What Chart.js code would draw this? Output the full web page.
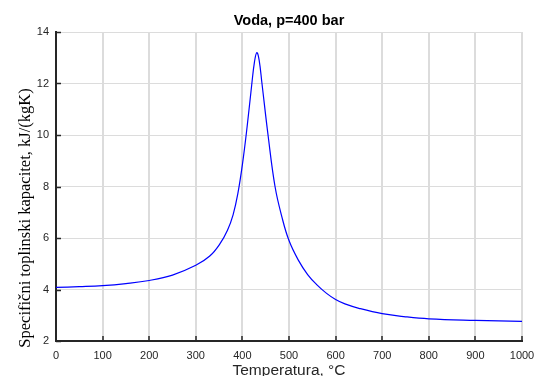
<!DOCTYPE html>
<html>
<head>
<meta charset="utf-8">
<script src="https://cdn.jsdelivr.net/npm/chart.js@4.4.0/dist/chart.umd.min.js"></script>
<style>
  body { margin: 0; background: #fff; }
  canvas { display: block; }
</style>
</head>
<body>
<canvas id="cpChart" width="536" height="376"></canvas>
<script>
// temperatura (°C) i specificni toplinski kapacitet (kJ/(kgK)) ocitani sa slike
const temperatures = [0, 50, 100, 150, 200, 250, 300, 330, 352, 368, 380, 390, 400, 410, 420, 426, 431,
    436, 442, 455, 470, 485, 500, 520, 540, 560, 580, 600, 620, 650, 700, 750, 800, 900, 1000];
const cpValues = [4.08, 4.11, 4.15, 4.23, 4.35, 4.56, 4.94, 5.3, 5.78, 6.3, 6.9, 7.7, 8.85, 10.3, 11.95, 12.85, 13.2,
    12.9, 12.0, 10.0, 8.0, 6.8, 5.9, 5.14, 4.58, 4.18, 3.86, 3.61, 3.44, 3.27, 3.06, 2.94, 2.86, 2.8, 2.76];
const xTicks = [0, 100, 200, 300, 400, 500, 600, 700, 800, 900, 1000];
const yTicks = [2, 4, 6, 8, 10, 12, 14];

const chartTitle = 'Voda, p=400 bar';
const xTitle = 'Temperatura, °C';
const yTitle = 'Specifični toplinski kapacitet, kJ/(kgK)';

const axisColor = '#262626';

// unutarnje crtice na osima i naslovi
const decorations = {
    id: 'decorations',
    afterDraw(chart) {
        const { ctx, chartArea, scales } = chart;
        ctx.save();
        ctx.strokeStyle = axisColor;
        ctx.lineWidth = 1.5;
        xTicks.forEach(v => {
            const px = Math.round(scales.x.getPixelForValue(v));
            ctx.beginPath();
            ctx.moveTo(px, chartArea.bottom);
            ctx.lineTo(px, chartArea.bottom - 5);
            ctx.stroke();
        });
        yTicks.forEach(v => {
            const py = Math.round(scales.y.getPixelForValue(v)) + 0.5;
            ctx.beginPath();
            ctx.moveTo(chartArea.left, py);
            ctx.lineTo(chartArea.left + 5, py);
            ctx.stroke();
        });

        const cx = (chartArea.left + chartArea.right) / 2;
        ctx.fillStyle = '#000';
        ctx.textAlign = 'center';
        ctx.textBaseline = 'middle';
        ctx.font = 'bold 14.5px "Liberation Sans", Arial';
        ctx.fillText(chartTitle, cx, 21);

        ctx.fillStyle = axisColor;
        ctx.font = '15.5px "Liberation Sans", Arial';
        ctx.fillText(xTitle, cx, 371);

        ctx.translate(26, 218);
        ctx.rotate(-Math.PI / 2);
        ctx.fillStyle = '#000';
        ctx.font = '16.5px "Liberation Serif", "Times New Roman", serif';
        ctx.fillText(yTitle, 0, 0);
        ctx.restore();
    }
};

Chart.defaults.font.family = '"Liberation Sans", Arial, sans-serif';
Chart.defaults.color = axisColor;

const points = temperatures.map((t, i) => ({ x: t, y: cpValues[i] }));

new Chart(document.getElementById('cpChart').getContext('2d'), {
    type: 'line',
    data: {
        datasets: [{
            data: points,
            borderColor: '#0000ff',
            borderWidth: 1.2,
            pointRadius: 0,
            fill: false,
            tension: 0.4
        }]
    },
    options: {
        responsive: false,
        animation: false,
        layout: {
            autoPadding: false,
            padding: { top: 32, right: 14, left: 0, bottom: 0 }
        },
        plugins: {
            legend: { display: false },
            title: { display: false },
            tooltip: { enabled: false }
        },
        scales: {
            x: {
                type: 'linear',
                min: 0,
                max: 1000,
                afterFit: (scale) => {
                    scale.height = 35;
                    scale.paddingLeft = 0;
                    scale.paddingRight = 0;
                },
                afterBuildTicks: (scale) => { scale.ticks = xTicks.map(v => ({ value: v })); },
                ticks: { padding: 8, font: { size: 11 }, maxRotation: 0, callback: (v) => String(v) },
                grid: { color: '#dcdcdc', lineWidth: 2, drawTicks: false },
                border: { color: axisColor, width: 2 }
            },
            y: {
                min: 2,
                max: 14,
                afterFit: (scale) => {
                    scale.width = 56;
                    scale.paddingTop = 0;
                    scale.paddingBottom = 0;
                },
                afterBuildTicks: (scale) => { scale.ticks = yTicks.map(v => ({ value: v })); },
                ticks: { padding: 7, font: { size: 11 } },
                grid: { color: '#dcdcdc', lineWidth: 1, drawTicks: false },
                border: { color: axisColor, width: 2 }
            }
        }
    },
    plugins: [decorations]
});
</script>
</body>
</html>
